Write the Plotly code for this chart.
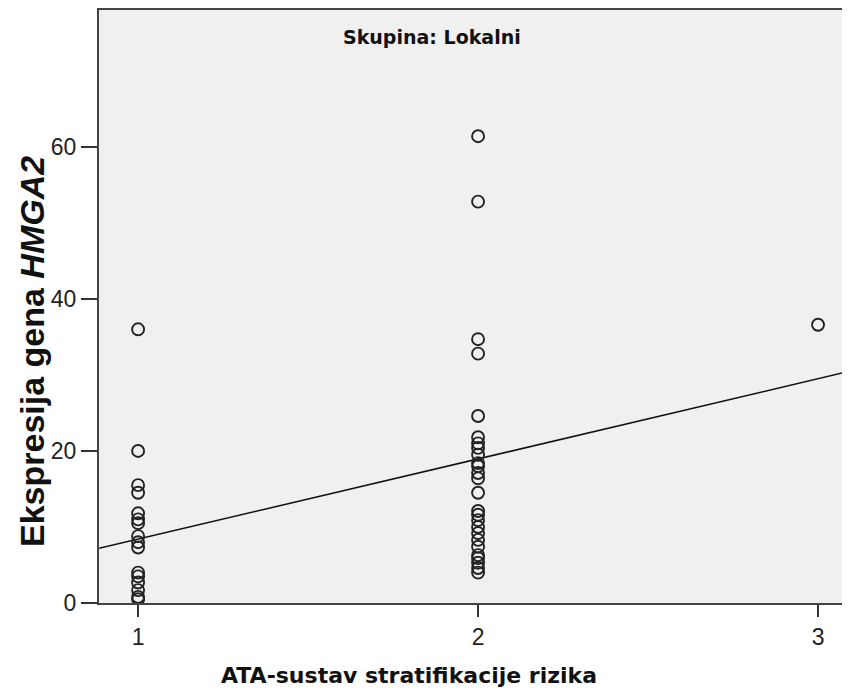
import plotly.graph_objects as go

# ATA risk group (x) and HMGA2 expression (y)
ata_group = [1]*16 + [2]*26 + [3]
hmga2_expr = [
    36.0, 20.0, 15.5, 14.5, 11.8, 11.0, 10.5, 8.8, 8.0, 7.3, 4.0, 3.5, 2.7, 1.7, 0.8, 0.5,
    61.4, 52.8, 34.7, 32.8, 24.6, 21.8, 21.0, 20.4, 19.5, 18.4, 18.0, 17.1, 16.4, 14.5,
    12.1, 11.6, 10.9, 10.0, 9.2, 8.3, 7.4, 6.3, 5.9, 5.3, 4.6, 4.0,
    36.6,
]
# Fit line
fit_intercept = -2.15
fit_slope = 10.55
x_range = [0.885, 3.094]
y_range = [0, 78]
x_ticks = [1, 2, 3]
y_ticks = [0, 20, 40, 60]

fig = go.Figure()
fig.add_trace(go.Scatter(
    x=x_range, y=[fit_intercept + fit_slope * v for v in x_range],
    mode="lines", line=dict(color="#111111", width=1.5), hoverinfo="skip", showlegend=False))
fig.add_trace(go.Scatter(
    x=ata_group, y=hmga2_expr, mode="markers",
    marker=dict(symbol="circle-open", size=12, color="#222222", line=dict(width=1.9)),
    showlegend=False))

tick_font = dict(family="Liberation Sans Narrow, Arial Narrow, Liberation Sans", size=23, color="#222222")
PW, PH = 751, 593  # plot area size in px
fig.update_layout(
    width=842, height=683,
    margin=dict(l=91, r=0, t=2, b=88),
    paper_bgcolor="white", plot_bgcolor="#f0f0f0",
    xaxis=dict(range=x_range, tickvals=x_ticks, showgrid=False, zeroline=False,
               showline=True, linecolor="#444444", linewidth=2, mirror=True,
               ticks="outside", ticklen=12, tickwidth=2, tickcolor="#333333",
               tickfont=tick_font),
    yaxis=dict(range=y_range, tickvals=y_ticks, showgrid=False, zeroline=False,
               showline=True, linecolor="#444444", linewidth=2,
               ticks="outside", ticklen=16, tickwidth=2, tickcolor="#333333",
               tickfont=tick_font),
    annotations=[
        dict(text="<b>Skupina: Lokalni</b>", xref="paper", yref="paper",
             x=(432 - 99) / PW, y=1 - (37 - 10) / PH, showarrow=False,
             xanchor="center", yanchor="middle",
             font=dict(family="DejaVu Sans, Verdana", size=19, color="#111111")),
        dict(text="<b>ATA-sustav stratifikacije rizika</b>", xref="paper", yref="paper",
             x=(409 - 99) / PW, y=(603 - 675) / PH, showarrow=False,
             xanchor="center", yanchor="middle",
             font=dict(family="DejaVu Sans, Verdana", size=22, color="#111111")),
        dict(text="<b>Ekspresija gena <i>HMGA2</i></b>", xref="paper", yref="paper",
             x=(32 - 99) / PW, y=(603 - 352) / PH, textangle=-90, showarrow=False,
             xanchor="center", yanchor="middle",
             font=dict(family="Liberation Sans, Arial", size=34, color="#111111")),
    ],
)
fig.write_html("out.html")
